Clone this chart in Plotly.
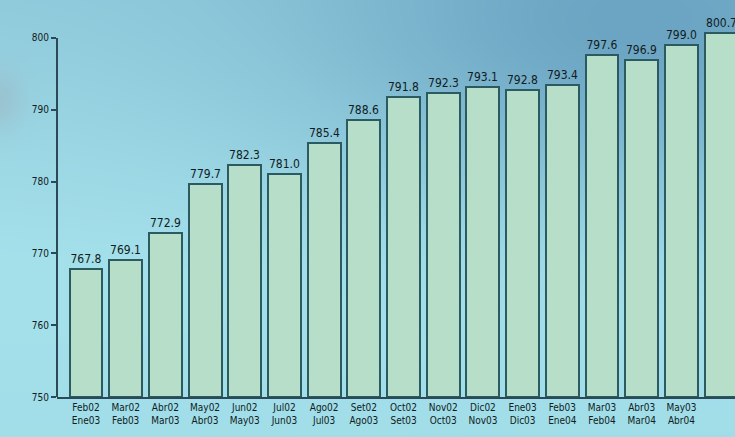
import base64, struct, zlib
import numpy as np
import plotly.graph_objects as go

top_labels = ["Feb02", "Mar02", "Abr02", "May02", "Jun02", "Jul02", "Ago02", "Set02", "Oct02",
              "Nov02", "Dic02", "Ene03", "Feb03", "Mar03", "Abr03", "May03", "Jun03"]
bottom_labels = ["Ene03", "Feb03", "Mar03", "Abr03", "May03", "Jun03", "Jul03", "Ago03", "Set03",
                 "Oct03", "Nov03", "Dic03", "Ene04", "Feb04", "Mar04", "Abr04", "May04"]
values = [767.8, 769.1, 772.9, 779.7, 782.3, 781.0, 785.4, 788.6, 791.8,
          792.3, 793.1, 792.8, 793.4, 797.6, 796.9, 799.0, 800.7]
y_ticks = [750, 760, 770, 780, 790, 800]

W, H = 735, 437
ML, MR, MT, MB = 57, 0, 2, 40


def make_bg():
    yy, xx = np.mgrid[0:H, 0:W].astype(float)
    light = np.array([165, 225, 235], float)
    dark = np.array([108, 165, 195], float)
    f = np.exp(-(((xx - 640) / 330) ** 2 + ((yy - 20) / 170) ** 2))
    g = np.clip(1 - yy / 260, 0, 1) * 0.35
    t = np.clip(f + g * (1 - f), 0, 1)[..., None]
    img = light * (1 - t) + dark * t
    b = np.clip((yy - 300) / 137, 0, 1)[..., None] * 0.15
    img = img * (1 - b) + np.array([140, 205, 220]) * b
    blob = np.exp(-(((xx - 0) / 22) ** 2 + ((yy - 100) / 30) ** 2))[..., None] * 0.3
    img = img * (1 - blob) + np.array([160, 160, 170]) * blob
    img = np.clip(img, 0, 255).astype(np.uint8)
    raw = b"".join(b"\x00" + img[r].tobytes() for r in range(H))

    def chunk(tag, data):
        c = struct.pack(">I", len(data)) + tag + data
        return c + struct.pack(">I", zlib.crc32(tag + data) & 0xffffffff)

    png = (b"\x89PNG\r\n\x1a\n" + chunk(b"IHDR", struct.pack(">IIBBBBB", W, H, 8, 2, 0, 0, 0))
           + chunk(b"IDAT", zlib.compress(raw, 9)) + chunk(b"IEND", b""))
    return "data:image/png;base64," + base64.b64encode(png).decode()


pw = W - ML - MR
ph = H - MT - MB
font_fam = "DejaVu Sans Condensed, Liberation Sans Narrow, Arial Narrow, sans-serif"

x_idx = list(range(len(values)))
x_text = [f"{a}<br>{b}" for a, b in zip(top_labels, bottom_labels)]

fig = go.Figure()
fig.add_trace(go.Bar(
    x=x_idx, y=[v - 750 for v in values], base=750,
    width=0.83,
    marker=dict(color="#b6dec9", line=dict(color="#2b5a60", width=2)),
    text=[f"{v:.1f}" for v in values], textposition="outside",
    textfont=dict(family=font_fam, size=12, color="#111c22"),
    cliponaxis=False, hoverinfo="skip",
))

fig.add_shape(type="line", xref="paper", yref="y", x0=0, x1=0, y0=750, y1=800,
              line=dict(color="#2b4a55", width=2))

fig.update_layout(
    width=W, height=H,
    margin=dict(l=ML, r=MR, t=MT, b=MB, pad=0),
    paper_bgcolor="rgba(0,0,0,0)", plot_bgcolor="rgba(0,0,0,0)",
    showlegend=False,
    bargap=0,
    font=dict(family=font_fam, color="#111c22"),
    images=[dict(source=make_bg(), xref="paper", yref="paper",
                 x=-ML / pw, y=1 + MT / ph, sizex=W / pw, sizey=H / ph,
                 sizing="stretch", layer="below", xanchor="left", yanchor="top")],
    xaxis=dict(range=[-0.73, 16.35], tickmode="array", tickvals=x_idx, ticktext=x_text,
               showgrid=False, zeroline=False, showline=True, linecolor="#2b4a55", linewidth=2,
               ticks="", tickfont=dict(size=10, family=font_fam, color="#111c22"),
               fixedrange=True),
    yaxis=dict(range=[750, 805], tickmode="array", tickvals=y_ticks,
               ticktext=[str(t) for t in y_ticks],
               showgrid=False, zeroline=False, showline=False,
               ticks="outside", ticklen=5, tickwidth=1.5, tickcolor="#2b4a55",
               tickfont=dict(size=10, family=font_fam, color="#111c22"), fixedrange=True),
)

fig.write_html("out.html")
